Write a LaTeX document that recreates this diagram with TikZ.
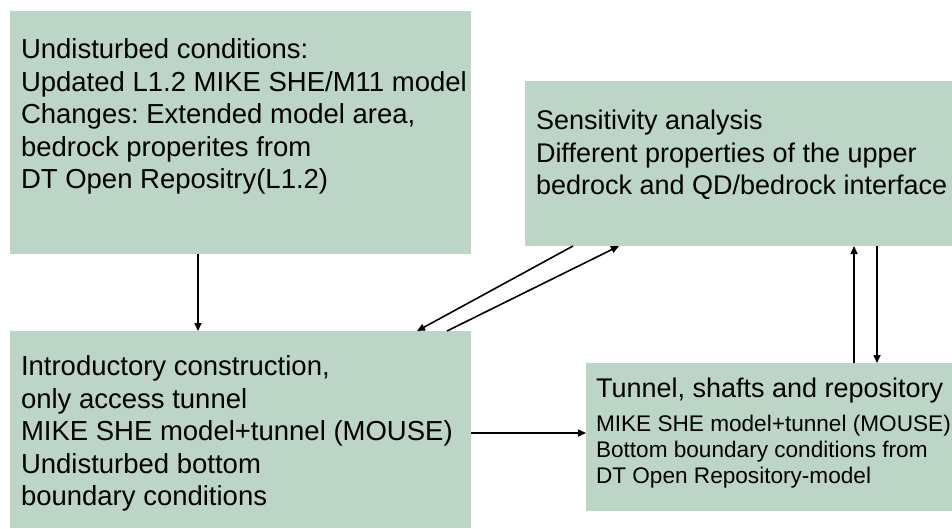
\documentclass[tikz,border=0pt]{standalone}
\usepackage{fontspec}
\setmainfont{Liberation Sans}
\usetikzlibrary{arrows.meta,positioning}
\definecolor{boxgreen}{RGB}{188,213,198}
\frenchspacing
\tikzset{inner sep=0pt,outer sep=0pt}
\tikzset{box/.style={rectangle,fill=boxgreen,anchor=north west}}

\begin{document}
\begin{tikzpicture}[x=1pt,y=-1pt,
    txt/.style={align=left,font=\fontsize{27.5}{32.5}\selectfont},
    txtnarrow/.style={align=left,font=\fontsize{27}{32.5}\selectfont},
    small/.style={align=left,font=\fontsize{22.6}{26}\selectfont},
    arr/.style={line width=1.6pt,-{Triangle[length=8pt,width=7pt]}}]
            \useasboundingbox (0,0) rectangle (952,528);
            \node[box,minimum width=461pt,minimum height=243pt] (A) at (10,11) {};
            \node[box,minimum width=427pt,minimum height=165pt] (B) at (525,81) {};
            \node[box,minimum width=461pt,minimum height=197pt] (C) at (10,331) {};
            \node[box,minimum width=366pt,minimum height=148pt] (D) at (586,363) {};

            \node[txt,below right=28pt and 11pt of A.north west] (tA)
                {Undisturbed conditions:\\Updated L1.2 MIKE SHE/M11 model\\Changes: Extended model area,\\bedrock properites from\\DT Open Repositry(L1.2)};
            \node[txtnarrow,below right=29.3pt and 11pt of B.north west] (tB)
                {Sensitivity analysis\\Different properties of the upper\\bedrock and QD/bedrock interface};
            \node[txt,below right=25pt and 11pt of C.north west] (tC)
                {Introductory construction,\\only access tunnel\\MIKE SHE model+tunnel (MOUSE)\\Undisturbed bottom\\boundary conditions};
            \node[txtnarrow,below right=15.3pt and 10pt of D.north west] (tD)
                {Tunnel, shafts and repository};
            \node[small,below right=11.7pt and 0pt of tD.south west] (tD2)
                {MIKE SHE model+tunnel (MOUSE)\\Bottom boundary conditions from\\DT Open Repository-model};

            \draw[arr] ([xshift=-42.5pt]A.south) -- ([xshift=-42.5pt]C.north);
            \draw[arr] ([xshift=48pt]B.south west) -- ([xshift=-54pt]C.north east);
            \draw[arr] ([xshift=-24pt]C.north east) -- ([xshift=94pt]B.south west);
            \draw[arr] ([yshift=-3.5pt]C.east) -- ([yshift=4pt]D.west);
            \draw[arr] ([xshift=85pt]D.north) -- ([xshift=115.5pt]B.south);
            \draw[arr] ([xshift=138.5pt]B.south) -- ([xshift=108pt]D.north);
        \end{tikzpicture}
\end{document}
